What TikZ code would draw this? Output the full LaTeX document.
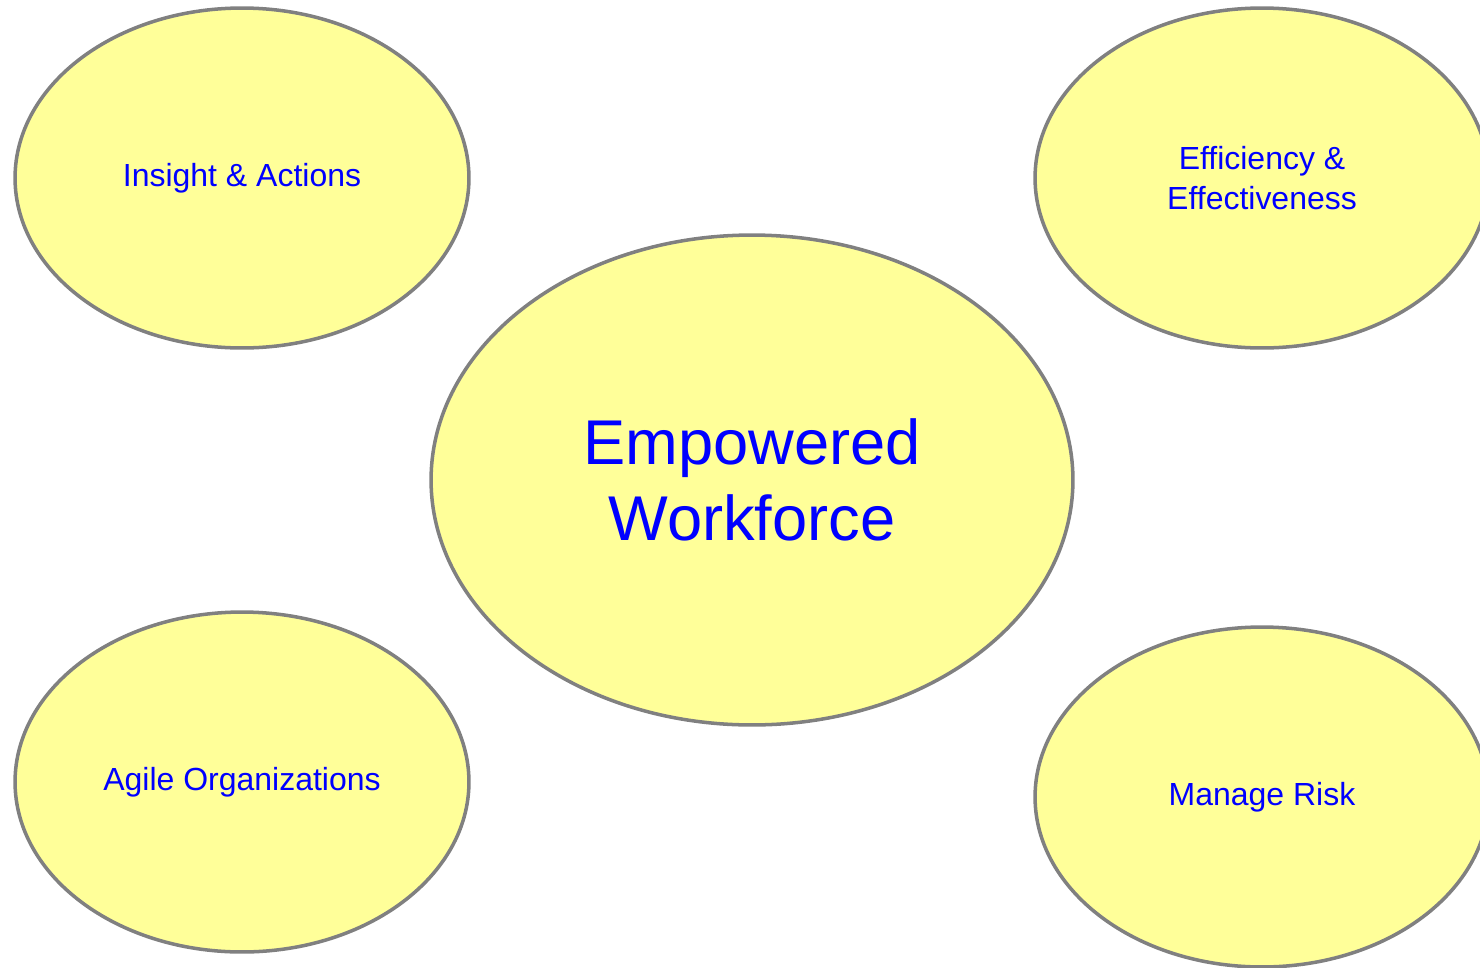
\documentclass[tikz,border=0pt]{standalone}
\usepackage{fontspec}
\setmainfont{Liberation Sans}
\usetikzlibrary{shapes.geometric}

\definecolor{bubblefill}{HTML}{FFFF99}
\definecolor{bubbleline}{HTML}{808080}

\begin{document}
\begin{tikzpicture}[x=0.02cm, y=-0.02cm,
    bubble/.style={ellipse, draw=bubbleline, fill=bubblefill, line width=2pt,
      inner sep=0pt, align=center, text=blue,
      font=\fontsize{18.2}{22.4}\selectfont,
      minimum width=9.08cm, minimum height=6.8cm},
    hub/.style={bubble, minimum width=12.84cm, minimum height=9.8cm,
      font=\fontsize{36}{43.5}\selectfont}]

  \useasboundingbox (0,0) rectangle (1480,967);

  \node[bubble] (insight) at (242,178) {Insight \& Actions};
  \node[bubble] (efficiency) at (1262,178) {Efficiency \&\\Effectiveness};

  \node[hub] (workforce) at (752,480) {Empowered\\Workforce};

  \node[bubble] (agile) at (242,782) {Agile Organizations};
  \node[bubble] (risk) at (1262,797) {Manage Risk};

\end{tikzpicture}
\end{document}
